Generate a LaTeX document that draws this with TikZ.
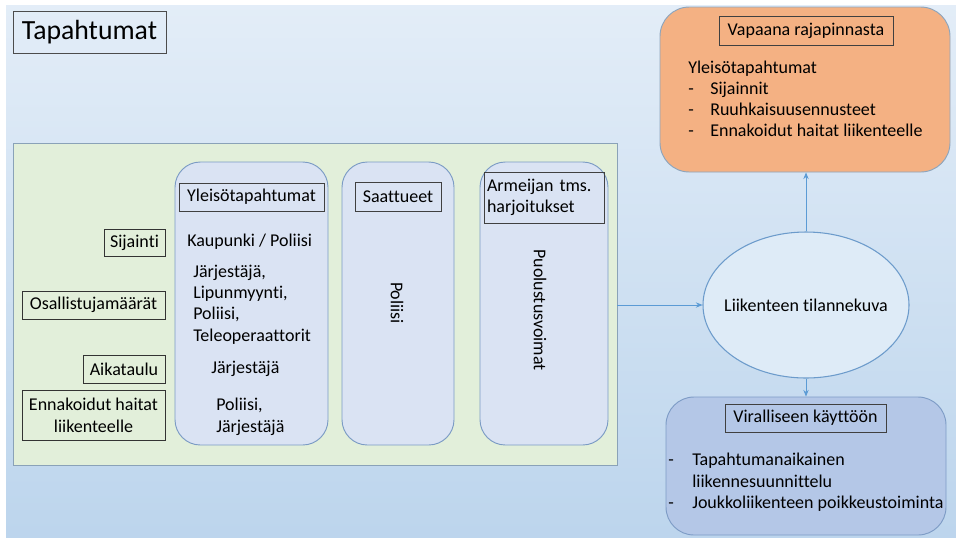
\documentclass[tikz,border=0pt]{standalone}
\usepackage{fontspec}
\setmainfont{Carlito}[Ligatures=NoCommon]
\usetikzlibrary{shapes.geometric,arrows.meta,fit}
\definecolor{bgtop}{HTML}{F6F9FD}
\definecolor{bgmid}{HTML}{B3CFEA}
\definecolor{bgbot}{HTML}{CCE0F3}
\definecolor{greenfill}{HTML}{E2EFDA}
\definecolor{greenline}{HTML}{8AA2B8}
\definecolor{colfill}{HTML}{DAE3F3}
\definecolor{colline}{HTML}{7B9BC4}
\definecolor{orangefill}{HTML}{F4B183}
\definecolor{orangeline}{HTML}{8DA5BD}
\definecolor{bluefill}{HTML}{B4C7E7}
\definecolor{blueline}{HTML}{7E9CC6}
\definecolor{ellfill}{HTML}{DEEBF7}
\definecolor{ellline}{HTML}{6C9BCB}
\definecolor{arrcol}{HTML}{5B9BD5}
\pgfdeclareverticalshading{bgshade}{100bp}{color(0bp)=(bgbot); color(12.6bp)=(bgmid); color(100bp)=(bgtop)}
\begin{document}
\begin{tikzpicture}[x=0.75pt,y=-0.75pt,
  every node/.style={font=\fontsize{13.5}{16}\selectfont, text=black},
  container/.style={draw, inner sep=0pt, line width=0.7pt},
  column/.style={container, draw=colline, fill=colfill, rounded corners=19pt},
  hdr/.style={draw=black!75, line width=0.6pt, inner sep=0pt, align=center},
  lbl/.style={draw=black!80, line width=0.6pt, inner sep=0pt, align=center},
  plain/.style={inner sep=0pt, align=left},
  arr/.style={draw=arrcol, line width=0.6pt, -{Stealth[length=5pt,width=4pt]}}
]
\useasboundingbox (0,0) rectangle (956,537);
\shade[shading=bgshade] (6,5) rectangle (956,537);

% title
\node[hdr, draw=black!70, minimum width={153*0.75pt}, minimum height={42*0.75pt}, font=\fontsize{20.8}{24}\selectfont] (title) at (89.5,32) {Tapahtumat};

% green container
\node[container, draw=greenline, line width=0.6pt, fill=greenfill, fit={(13,143)(617,465)}] (green) {};

% columns
\node[column, fit={(175,162)(328,445)}] (col1) {};
\node[column, fit={(342,162)(454,445)}] (col2) {};
\node[column, fit={(480,162)(608,445)}] (col3) {};

% column headers
\node[hdr, minimum width={145*0.75pt}, minimum height={28*0.75pt}] (h1) at (251.5,197) {Yleisötapahtumat};
\node[hdr, minimum width={86*0.75pt}, minimum height={29*0.75pt}] (h2) at (398,196.5) {Saattueet};
\node[hdr, minimum width={120*0.75pt}, minimum height={51*0.75pt}, align=left, text width={114*0.75pt}] (h3) at (544,197.5) {Armeijan tms.\\harjoitukset};

% rotated texts
\node[plain, rotate=-90] (poliisi) at (397,303) {Poliisi};
\node[plain, rotate=-90] (puolustus) at (540,310) {Puolustusvoimat};

% column 1 texts
\node[plain, anchor=west] (t1) at (187,242) {Kaupunki / Poliisi};
\node[plain, anchor=west] (t2) at (193,304.5) {Järjestäjä,\\Lipunmyynti,\\Poliisi,\\Teleoperaattorit};
\node[plain, anchor=west] (t3) at (211,369) {Järjestäjä};
\node[plain, anchor=west, font=\fontsize{13.5}{16.5}\selectfont] (t4) at (216,416.5) {Poliisi,\\Järjestäjä};

% left labels
\node[lbl, minimum width={61*0.75pt}, minimum height={27*0.75pt}] (l1) at (134.5,242.5) {Sijainti};
\node[lbl, minimum width={143*0.75pt}, minimum height={28*0.75pt}] (l2) at (93.5,305) {Osallistujamäärät};
\node[lbl, minimum width={82*0.75pt}, minimum height={28*0.75pt}] (l3) at (124,369) {Aikataulu};
\node[lbl, minimum width={143*0.75pt}, minimum height={50*0.75pt}, font=\fontsize{13.5}{16.5}\selectfont] (l4) at (93.5,415) {Ennakoidut haitat\\liikenteelle};

% ellipse
\node[ellipse, draw=ellline, fill=ellfill, line width=0.8pt, minimum width={206*0.75pt}, minimum height={146*0.75pt}, inner sep=0pt] (ell) at (806,305) {\makebox[0pt][c]{Liikenteen tilannekuva}};

% orange box
\node[container, draw=orangeline, fill=orangefill, rounded corners=22pt, fit={(660,7)(950,172)}] (orange) {};
\node[hdr, minimum width={174*0.75pt}, minimum height={29*0.75pt}] (oh) at (806,30.5) {Vapaana rajapinnasta};
\node[plain, anchor=west, font=\fontsize{13.5}{15.6}\selectfont] (otext) at (688,99) {Yleisötapahtumat\\\makebox[16.5pt][l]{-}Sijainnit\\\makebox[16.5pt][l]{-}Ruuhkaisuusennusteet\\\makebox[16.5pt][l]{-}Ennakoidut haitat liikenteelle};

% blue box
\node[container, draw=blueline, fill=bluefill, rounded corners=21pt, fit={(666,397)(946,535)}] (offi) {};
\node[hdr, minimum width={161*0.75pt}, minimum height={28*0.75pt}] (bh) at (805.5,418) {Viralliseen käyttöön};
\node[plain, anchor=west, font=\fontsize{13.5}{16}\selectfont] (btext) at (668,482.5) {\makebox[18pt][l]{-}Tapahtumanaikainen\\\makebox[18pt][l]{}liikennesuunnittelu\\\makebox[18pt][l]{-}Joukkoliikenteen poikkeustoiminta};

% arrows
\draw[arr] (green.east |- ell.west) -- (ell.west);
\draw[arr] (ell.north) -- (ell.north |- orange.south);
\draw[arr] (ell.south) -- (ell.south |- offi.north);
\end{tikzpicture}
\end{document}
